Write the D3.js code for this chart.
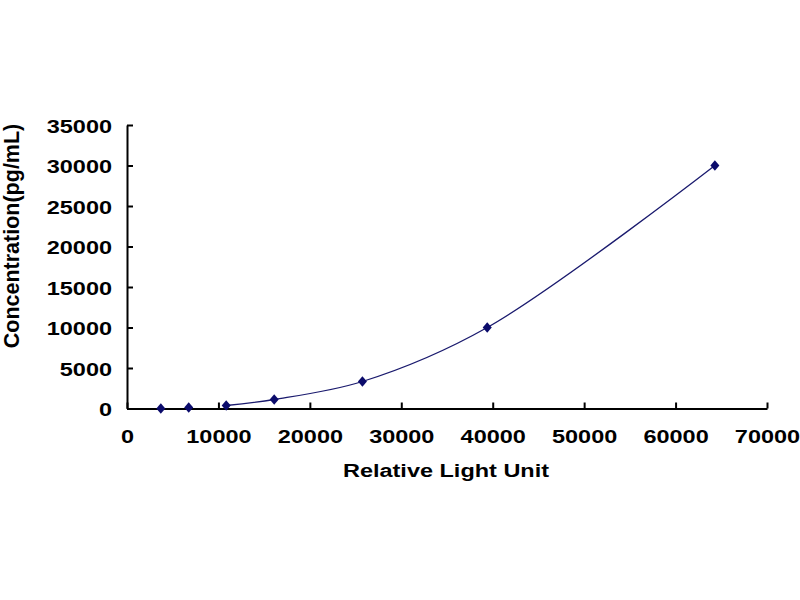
<!DOCTYPE html>
<html>
<head>
<meta charset="utf-8">
<script src="https://cdn.jsdelivr.net/npm/d3@7"></script>
<style>
  body { margin: 0; background: #fff; }
</style>
</head>
<body>
<div id="chart"></div>
<script>
// standard curve readings
const rlu = [3700, 6750, 10850, 16100, 25750, 39400, 64300];
const conc = [0, 123, 370, 1111, 3333, 10000, 30000];
const xTicks = [0, 10000, 20000, 30000, 40000, 50000, 60000, 70000];
const yTicks = [0, 5000, 10000, 15000, 20000, 25000, 30000, 35000];
const fitFrom = 2; // the fitted curve starts at the third standard

let width = 800, height = 600;
let margin = {top: 125, right: 33, bottom: 191.5, left: 127};

let svg = d3.select("#chart")
  .append("svg")
    .attr("width", width)
    .attr("height", height);

let g = svg.append("g")
  .attr("transform", "translate(" + margin.left + "," + margin.top + ")");

let w = width - margin.left - margin.right,
    h = height - margin.top - margin.bottom;

let x = d3.scaleLinear().domain([0, 70000]).range([0, w]);
let y = d3.scaleLinear().domain([0, 35000]).range([h, 0]);

let font = "'Liberation Sans', Arial, sans-serif";
let stretch = 1.27; // the picture's text is wide, like a stretched Arial

// x axis, ticks pointing inward
let xAxis = g.append("g")
  .attr("transform", "translate(0," + h + ")")
  .call(d3.axisBottom(x).tickValues(xTicks).tickSizeInner(-6).tickSizeOuter(0).tickPadding(21)
    .tickFormat(d3.format("d")));

// y axis, ticks pointing inward
let yAxis = g.append("g")
  .call(d3.axisLeft(y).tickValues(yTicks).tickSizeInner(-6).tickSizeOuter(0).tickPadding(15)
    .tickFormat(d3.format("d")));

[xAxis, yAxis].forEach(function(a) {
  a.attr("font-family", font).attr("font-size", 18.5).attr("font-weight", "bold");
  a.select(".domain").attr("stroke", "#000").attr("stroke-width", 2);
  a.selectAll(".tick line").attr("stroke", "#000").attr("stroke-width", 2);
  a.selectAll(".tick text").attr("fill", "#000")
    .attr("transform", "scale(" + stretch + ",1)");
});
yAxis.selectAll(".tick text").attr("dy", "0.38em").attr("x", -15 / stretch);

// fitted curve
let pts = rlu.map(function(d, i) { return [d, conc[i]]; });
let line = d3.line()
  .x(function(d) { return x(d[0]); })
  .y(function(d) { return y(d[1]); })
  .curve(d3.curveCatmullRom.alpha(0.5));

g.append("path")
  .datum(pts.slice(fitFrom))
  .attr("fill", "none")
  .attr("stroke", "#1a1a6e")
  .attr("stroke-width", 1.3)
  .attr("d", line);

// diamond markers
let diamond = {
  draw: function(context, size) {
    let r = Math.sqrt(size) / 2;
    context.moveTo(0, -r * 1.1);
    context.lineTo(r * 0.95, 0);
    context.lineTo(0, r * 1.1);
    context.lineTo(-r * 0.95, 0);
    context.closePath();
  }
};

g.selectAll(".pt")
  .data(pts)
  .enter()
  .append("path")
    .attr("class", "pt")
    .attr("transform", function(d) { return "translate(" + x(d[0]) + "," + y(d[1]) + ")"; })
    .attr("d", d3.symbol().type(diamond).size(90))
    .attr("fill", "#0b0b6b");

// axis titles
svg.append("text")
  .attr("transform", "scale(" + stretch + ",1)")
  .attr("x", 446 / stretch)
  .attr("y", 477)
  .attr("text-anchor", "middle")
  .attr("font-family", font)
  .attr("font-size", 18.5)
  .attr("font-weight", "bold")
  .attr("fill", "#000")
  .text("Relative Light Unit");

svg.append("text")
  .attr("transform", "translate(19," + 236 + ") rotate(-90)")
  .attr("text-anchor", "middle")
  .attr("font-family", font)
  .attr("font-size", 21.5)
  .attr("font-weight", "bold")
  .attr("fill", "#000")
  .text("Concentration(pg/mL)");
</script>
</body>
</html>
